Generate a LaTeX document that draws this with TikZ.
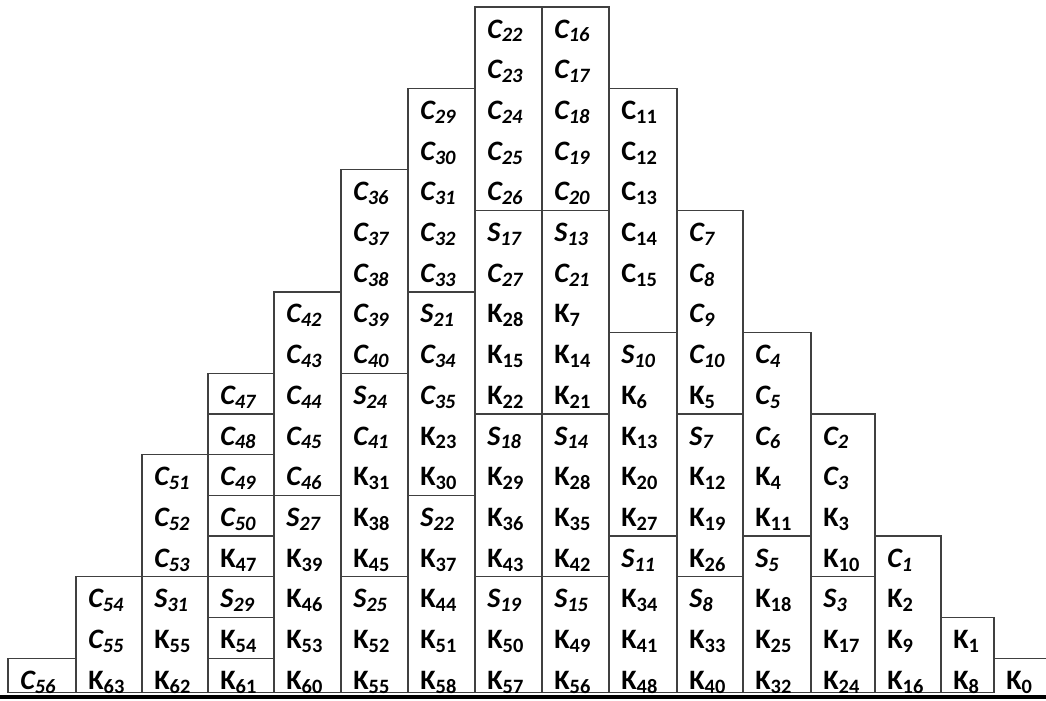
\documentclass[tikz,border=0pt]{standalone}
\usepackage{fontspec}
\setmainfont{Carlito}

% labels: letter with lowered index
\newcommand\subnum[1]{\raisebox{-2.8pt}{\fontsize{14.5}{15}\selectfont #1}}
\newcommand\labC[1]{\textit{C\subnum{#1}}}
\newcommand\labCu[1]{C\subnum{#1}}
\newcommand\labS[1]{\textit{S\subnum{#1}}}
\newcommand\labK[1]{K\subnum{#1}}

% one column of labels: index, left x, first row, labels
\newcommand\fillcol[4]{%
  \foreach \lab [count=\r from #3] in {#4}
    \node[cell] (col#1-\r) at (#2+12, 7+40.7*\r+31) {\lab};}
% outline of a column and a line across it
\newcommand\colbox[3]{\draw[rule] (#1, 7+40.7*#3) rectangle (#2, 692.5);}
\newcommand\divider[3]{\draw[rule] (#1, 7+40.7*#3) -- (#2, 7+40.7*#3);}

\begin{document}
\begin{tikzpicture}[x=0.025cm, y=-0.025cm,
    cell/.style={anchor=base west, inner sep=0pt, font=\bfseries\fontsize{20}{22}\selectfont},
    rule/.style={draw=black!75, line width=0.9pt}]

    \useasboundingbox (0,0) rectangle (1046,700);

    % columns
    \colbox{8}{76}{16}
    \colbox{76}{142}{14}
    \colbox{142}{208}{11}
    \colbox{208}{274}{9}
    \colbox{274}{341}{7}
    \colbox{341}{408}{4}
    \colbox{408}{475}{2}
    \colbox{475}{542}{0}
    \colbox{542}{609}{0}
    \colbox{609}{677}{2}
    \colbox{677}{743}{5}
    \colbox{743}{811}{8}
    \colbox{811}{875}{10}
    \colbox{875}{941}{13}
    \colbox{941}{994}{15}
    \divider{994}{1046}{16}

    % lines inside the columns
    \divider{142}{208}{14}
    \foreach \k in {10,...,16} {\divider{208}{274}{\k}}
    \divider{274}{341}{12}
    \divider{341}{408}{9}
    \divider{341}{408}{14}
    \divider{408}{475}{7}
    \divider{408}{475}{12}
    \foreach \k in {5,10,14} {\divider{475}{609}{\k}}
    \divider{609}{677}{8}
    \divider{609}{677}{13}
    \divider{677}{743}{10}
    \divider{677}{743}{14}
    \divider{743}{811}{13}
    \divider{811}{875}{14}

    % labels
    \fillcol{0}{8}{16}{\labC{56}}
    \fillcol{1}{76}{14}{\labC{54},\labC{55},\labK{63}}
    \fillcol{2}{142}{11}{\labC{51},\labC{52},\labC{53},\labS{31},\labK{55},\labK{62}}
    \fillcol{3}{208}{9}{\labC{47},\labC{48},\labC{49},\labC{50},\labK{47},\labS{29},\labK{54},\labK{61}}
    \fillcol{4}{274}{7}{\labC{42},\labC{43},\labC{44},\labC{45},\labC{46},\labS{27},\labK{39},\labK{46},\labK{53},\labK{60}}
    \fillcol{5}{341}{4}{\labC{36},\labC{37},\labC{38},\labC{39},\labC{40},\labS{24},\labC{41},\labK{31},\labK{38},\labK{45},\labS{25},\labK{52},\labK{55}}
    \fillcol{6}{408}{2}{\labC{29},\labC{30},\labC{31},\labC{32},\labC{33},\labS{21},\labC{34},\labC{35},\labK{23},\labK{30},\labS{22},\labK{37},\labK{44},\labK{51},\labK{58}}
    \fillcol{7}{475}{0}{\labC{22},\labC{23},\labC{24},\labC{25},\labC{26},\labS{17},\labC{27},\labK{28},\labK{15},\labK{22},\labS{18},\labK{29},\labK{36},\labK{43},\labS{19},\labK{50},\labK{57}}
    \fillcol{8}{542}{0}{\labC{16},\labC{17},\labC{18},\labC{19},\labC{20},\labS{13},\labC{21},\labK{7},\labK{14},\labK{21},\labS{14},\labK{28},\labK{35},\labK{42},\labS{15},\labK{49},\labK{56}}
    \fillcol{9}{609}{2}{\labCu{11},\labCu{12},\labCu{13},\labCu{14},\labCu{15}}
    \fillcol{9}{609}{8}{\labS{10},\labK{6},\labK{13},\labK{20},\labK{27},\labS{11},\labK{34},\labK{41},\labK{48}}
    \fillcol{10}{677}{5}{\labC{7},\labC{8},\labC{9},\labC{10},\labK{5},\labS{7},\labK{12},\labK{19},\labK{26},\labS{8},\labK{33},\labK{40}}
    \fillcol{11}{743}{8}{\labC{4},\labC{5},\labC{6},\labK{4},\labK{11},\labS{5},\labK{18},\labK{25},\labK{32}}
    \fillcol{12}{811}{10}{\labC{2},\labC{3},\labK{3},\labK{10},\labS{3},\labK{17},\labK{24}}
    \fillcol{13}{875}{13}{\labC{1},\labK{2},\labK{9},\labK{16}}
    \fillcol{14}{941}{15}{\labK{1},\labK{8}}
    \fillcol{15}{994}{16}{\labK{0}}

    % base line
    \draw[line width=2.2pt] (0,697) -- (1046,697);

\end{tikzpicture}
\end{document}
